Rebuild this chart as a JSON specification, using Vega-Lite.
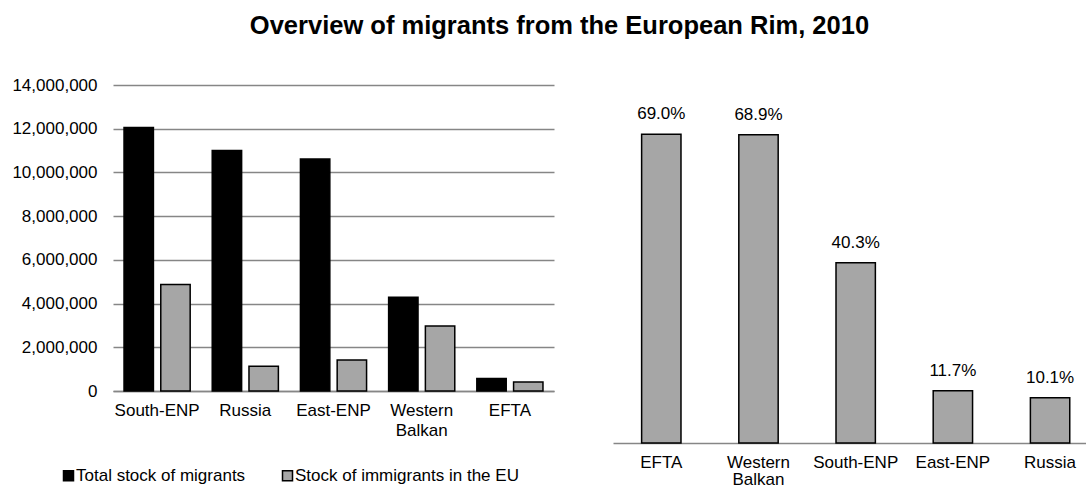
{
  "$schema": "https://vega.github.io/schema/vega-lite/v6.json",
  "background": "white",
  "padding": {"left": 11, "top": 13, "right": 0, "bottom": 0},
  "title": {
    "text": "Overview of migrants from the European Rim, 2010",
    "font": "Liberation Sans",
    "fontSize": 25.5,
    "fontWeight": "bold",
    "color": "black",
    "anchor": "middle",
    "frame": "bounds",
    "offset": 37,
    "dx": 10
  },
  "datasets": {
    "stock": [
      {"region": "South-ENP", "series": "Total stock of migrants", "value": 12050000},
      {"region": "South-ENP", "series": "Stock of immigrants in the EU", "value": 4870000},
      {"region": "Russia", "series": "Total stock of migrants", "value": 11000000},
      {"region": "Russia", "series": "Stock of immigrants in the EU", "value": 1130000},
      {"region": "East-ENP", "series": "Total stock of migrants", "value": 10610000},
      {"region": "East-ENP", "series": "Stock of immigrants in the EU", "value": 1420000},
      {"region": "Western Balkan", "series": "Total stock of migrants", "value": 4290000},
      {"region": "Western Balkan", "series": "Stock of immigrants in the EU", "value": 2970000},
      {"region": "EFTA", "series": "Total stock of migrants", "value": 570000},
      {"region": "EFTA", "series": "Stock of immigrants in the EU", "value": 410000}
    ],
    "share": [
      {"region": "EFTA", "share": 0.690},
      {"region": "Western Balkan", "share": 0.689},
      {"region": "South-ENP", "share": 0.403},
      {"region": "East-ENP", "share": 0.117},
      {"region": "Russia", "share": 0.101}
    ]
  },
  "hconcat": [
    {
      "width": 441,
      "height": 306,
      "data": {"name": "stock"},
      "mark": {"type": "bar", "stroke": "black", "strokeWidth": 1.5},
      "encoding": {
        "x": {
          "field": "region",
          "type": "nominal",
          "sort": ["South-ENP", "Russia", "East-ENP", "Western Balkan", "EFTA"],
          "scale": {"paddingInner": 0.25, "paddingOuter": 0.125},
          "axis": {
            "title": null,
            "labelAngle": 0,
            "ticks": false,
            "domainColor": "#868686",
            "domainWidth": 1.5,
            "labelPadding": 11,
            "labelFontSize": 17,
            "labelColor": "black",
            "labelLineHeight": 20,
            "labelExpr": "datum.label == 'Western Balkan' ? ['Western', 'Balkan'] : datum.label"
          }
        },
        "xOffset": {
          "field": "series",
          "type": "nominal",
          "sort": ["Total stock of migrants", "Stock of immigrants in the EU"],
          "scale": {"paddingInner": 0.2}
        },
        "y": {
          "field": "value",
          "type": "quantitative",
          "scale": {"domain": [0, 14000000], "nice": false},
          "axis": {
            "title": null,
            "values": [0, 2000000, 4000000, 6000000, 8000000, 10000000, 12000000, 14000000],
            "format": ",.0f",
            "ticks": false,
            "domain": false,
            "gridColor": "#868686",
            "gridWidth": 1.5,
            "labelPadding": 16,
            "labelFontSize": 17,
            "labelColor": "black"
          }
        },
        "color": {
          "field": "series",
          "type": "nominal",
          "scale": {
            "domain": ["Total stock of migrants", "Stock of immigrants in the EU"],
            "range": ["#000000", "#a6a6a6"]
          },
          "legend": {
            "title": null,
            "orient": "none",
            "direction": "horizontal",
            "legendX": -53,
            "legendY": 382,
            "symbolType": "square",
            "symbolSize": 100,
            "symbolStrokeWidth": 1.5,
            "symbolStrokeColor": "black",
            "labelFontSize": 17,
            "labelColor": "black",
            "labelOffset": -1,
            "columnPadding": 33,
            "labelLimit": 300
          }
        }
      }
    },
    {
      "width": 474,
      "height": 358,
      "data": {"name": "share"},
      "encoding": {
        "x": {
          "field": "region",
          "type": "nominal",
          "sort": ["EFTA", "Western Balkan", "South-ENP", "East-ENP", "Russia"],
          "scale": {"paddingInner": 0.595, "paddingOuter": 0.236, "align": 0.624},
          "axis": {
            "title": null,
            "labelAngle": 0,
            "ticks": false,
            "domainColor": "#868686",
            "domainWidth": 1.5,
            "labelPadding": 11,
            "labelFontSize": 17,
            "labelColor": "black",
            "labelLineHeight": 17,
            "labelExpr": "datum.label == 'Western Balkan' ? ['Western', 'Balkan'] : datum.label"
          }
        },
        "y": {
          "field": "share",
          "type": "quantitative",
          "scale": {"domain": [0, 0.8], "nice": false},
          "axis": null
        }
      },
      "layer": [
        {"mark": {"type": "bar", "fill": "#a6a6a6", "stroke": "black", "strokeWidth": 1.5}},
        {
          "mark": {"type": "text", "baseline": "middle", "dy": -20, "fontSize": 17, "color": "black"},
          "encoding": {"text": {"field": "share", "type": "quantitative", "format": ".1%"}}
        }
      ]
    }
  ],
  "spacing": 59,
  "config": {
    "font": "Liberation Sans",
    "view": {"stroke": null},
    "axis": {"labelFont": "Liberation Sans"},
    "legend": {"labelFont": "Liberation Sans"}
  }
}
